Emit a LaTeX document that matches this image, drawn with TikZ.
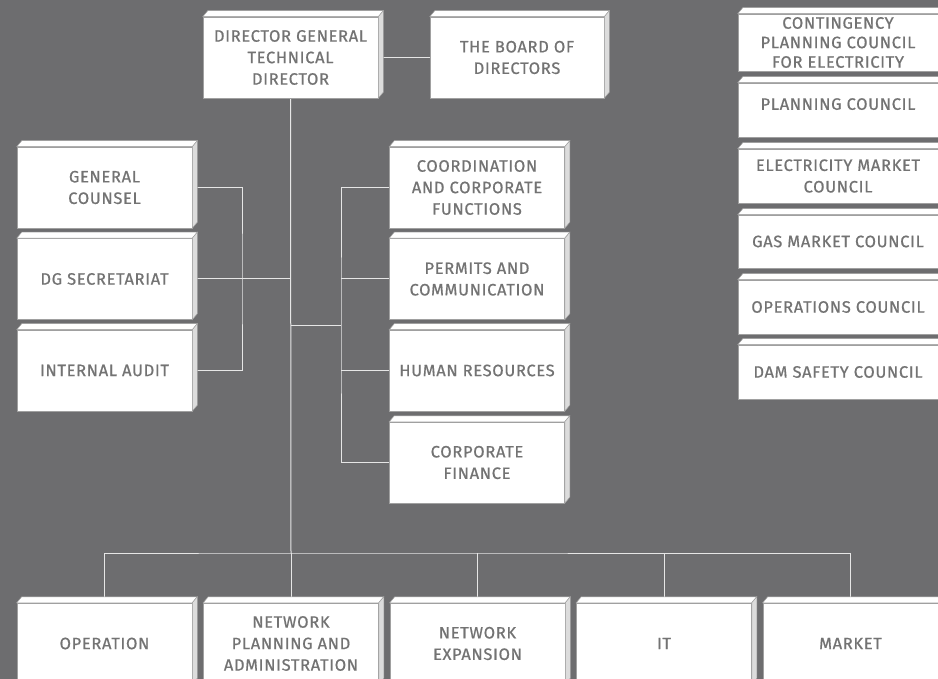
\documentclass[tikz,border=0pt]{standalone}
\usepackage{fontspec}
\setmainfont{Fira Sans}[LetterSpace=4,FakeBold=0.7]
\usetikzlibrary{calc}
\definecolor{bgGray}{HTML}{6D6D6F}
\definecolor{boxText}{HTML}{737373}
\definecolor{boxEdge}{HTML}{A0A0A0}
\definecolor{sideFace}{HTML}{DCDCDC}
\definecolor{wireCol}{HTML}{E6E6E6}
\pgfdeclarelayer{wires}
\pgfsetlayers{wires,main}
\tikzset{
  panel/.style={fill=white, draw=boxEdge, line width=0.5pt, minimum width=175pt, minimum height=81pt,
    inner sep=0pt, align=center, text=boxText, font=\fontsize{16.5}{21.5}\selectfont},
  council/.style={panel, minimum width=200pt, minimum height=54pt},
  link/.style={draw=wireCol, line width=1pt},
  topface/.style={fill=white, draw=boxEdge, line width=0.5pt},
  sideface/.style={fill=sideFace, draw=boxEdge, line width=0.5pt},
}

\begin{document}
\begin{tikzpicture}[x=1pt,y=-1pt]
    \useasboundingbox (0,0) rectangle (938,679);
    \clip (0,0) rectangle (938,679);

    \node[panel] (dg) at (290.5,57.5) {DIRECTOR GENERAL\\TECHNICAL\\DIRECTOR};
    \node[panel, minimum width=174pt] (board) at (517,57.5) {THE BOARD OF\\DIRECTORS};

    \node[panel] (gc) at (104.5,187.5) {GENERAL\\COUNSEL};
    \node[panel] (sec) at (104.5,279) {DG SECRETARIAT};
    \node[panel] (audit) at (104.5,370.5) {INTERNAL AUDIT};

    \node[panel] (coord) at (477,187.5) {COORDINATION\\AND CORPORATE\\FUNCTIONS};
    \node[panel] (permits) at (477,279) {PERMITS AND\\COMMUNICATION};
    \node[panel] (hr) at (477,370.5) {HUMAN RESOURCES};
    \node[panel] (finance) at (477,462.5) {CORPORATE\\FINANCE};

    \node[council, minimum height=57pt, font=\fontsize{16.5}{19.5}\selectfont] (contingency) at (838,42.5) {CONTINGENCY\\PLANNING COUNCIL\\FOR ELECTRICITY};
    \node[council, text depth=12pt] (planning) at (838,110) {PLANNING COUNCIL};
    \node[council] (elmarket) at (838,176) {ELECTRICITY MARKET\\COUNCIL};
    \node[council, minimum height=53pt] (gasmarket) at (838,241.5) {GAS MARKET COUNCIL};
    \node[council] (opscouncil) at (838,307) {OPERATIONS COUNCIL};
    \node[council] (damsafety) at (838,372) {DAM SAFETY COUNCIL};

    \node[panel] (operation) at (104.5,643.5) {OPERATION};
    \node[panel] (netplan) at (291,643.5) {NETWORK\\PLANNING AND\\ADMINISTRATION};
    \node[panel] (netexp) at (477.5,643.5) {NETWORK\\EXPANSION};
    \node[panel] (it) at (664,643.5) {IT};
    \node[panel] (market) at (850.5,643.5) {MARKET};

    \foreach \n in {dg,board,gc,sec,audit,coord,permits,hr,finance,
                    contingency,planning,elmarket,gasmarket,opscouncil,damsafety,
                    operation,netplan,netexp,it,market}{
      \draw[topface] (\n.north west) -- ++(5,-6) -- ($(\n.north east)+(5,-6)$) -- (\n.north east) -- cycle;
      \draw[sideface] (\n.north east) -- ++(5,-6) -- ($(\n.south east)+(5,-6)$) -- (\n.south east) -- cycle;
    }

    \begin{pgfonlayer}{wires}
      \fill[bgGray] (0,0) rectangle (938,679);
      \coordinate (lbar) at (242,279);
      \coordinate (rbar) at (341,326);
      \coordinate (bus) at (291,553);
      \draw[link] (dg) -- (board);
      \draw[link] (dg.south) -- (bus);
      \draw[link] (gc.east) -| (lbar) |- (audit.east);
      \draw[link] (sec.east) -- (sec.east -| dg);
      \draw[link] (coord.west) -| (rbar) |- (finance.west);
      \draw[link] (permits.west) -- (permits.west -| rbar);
      \draw[link] (hr.west) -- (hr.west -| rbar);
      \draw[link] (rbar -| dg) -- (rbar);
      \draw[link] (operation.north) |- (bus) -| (market.north);
      \foreach \b in {netplan,netexp,it}
        \draw[link] (\b.north) -- (\b.north |- bus);
    \end{pgfonlayer}
\end{tikzpicture}
\end{document}
